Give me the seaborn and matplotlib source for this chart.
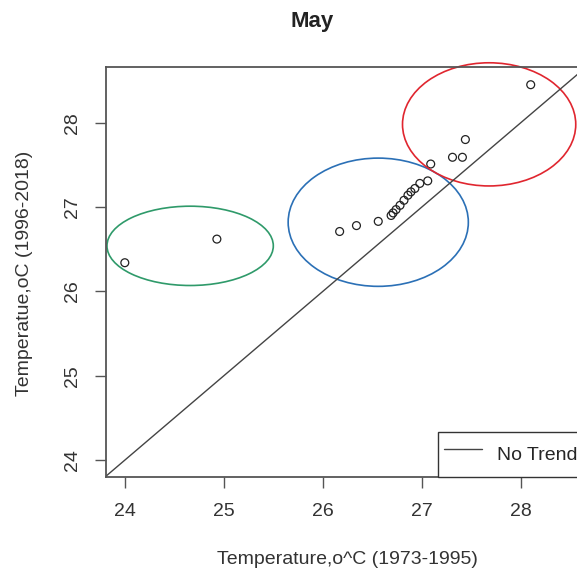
import matplotlib
matplotlib.use("Agg")
import matplotlib.pyplot as plt
from matplotlib.patches import Ellipse
import numpy as np
import pandas as pd
import seaborn as sns

sns.set_theme(style="ticks")
plt.rcParams["font.family"] = ["Liberation Sans", "DejaVu Sans"]

# mean May temperature, earlier period vs later period
temp_1973_1995 = [24.00, 24.93, 26.17, 26.34, 26.56, 26.69, 26.71, 26.74, 26.78,
                  26.82, 26.86, 26.89, 26.93, 26.98, 27.06, 27.09, 27.31, 27.41,
                  27.44, 28.10]
temp_1996_2018 = [26.34, 26.62, 26.71, 26.78, 26.83, 26.90, 26.93, 26.97, 27.02,
                  27.08, 27.14, 27.18, 27.22, 27.28, 27.31, 27.51, 27.59, 27.59,
                  27.80, 28.45]

# groups circled on the chart: (centre x, centre y, width, height, colour)
groups = [
    (24.66, 26.54, 1.68, 0.94, "#2f9a6a"),
    (26.56, 26.82, 1.82, 1.52, "#2b70b6"),
    (27.68, 27.98, 1.75, 1.46, "#e0262f"),
]

df = pd.DataFrame({"x": temp_1973_1995, "y": temp_1996_2018})

fig = plt.figure(figsize=(5.77, 5.77), dpi=100)
# axes run a little past the right edge, the original image is cropped there
ax = fig.add_axes([106 / 577, 100 / 577, 477 / 577, 410 / 577])

ax.axline((24, 24), slope=1, color="#444444", lw=1.0, label="No Trend")
sns.scatterplot(data=df, x="x", y="y", ax=ax, s=32, legend=False)
pts = ax.collections[-1]
pts.set_facecolor("none")
pts.set_edgecolor("#222222")
pts.set_linewidth(0.9)

for cx, cy, w, h, col in groups:
    ax.add_patch(Ellipse((cx, cy), w, h, fill=False, edgecolor=col, lw=1.2,
                         clip_on=False))

ax.set_xlim(23.81, 23.81 + 477 / 99)
ax.set_ylim(23.80, 28.66)
ax.set_xticks([24, 25, 26, 27, 28])
ax.set_yticks([24, 25, 26, 27, 28])
for s in ax.spines.values():
    s.set_visible(True)
    s.set_color("#555555")
    s.set_linewidth(1.3)
ax.tick_params(length=8, width=1, color="#555555", labelsize=14,
               labelcolor="#333333")
ax.tick_params(axis="x", pad=11)
ax.tick_params(axis="y", pad=10)
for t in ax.get_yticklabels():
    t.set_rotation(90)
    t.set_va("center")

ax.set_xlabel("Temperature,o^C (1973-1995)", fontsize=14, color="#333333")
ax.set_ylabel("Temperatue,oC (1996-2018)", fontsize=14, color="#333333")
ax.xaxis.set_label_coords(241 / 477, -83 / 410)
ax.yaxis.set_label_coords(-81 / 477, 204 / 410)
ax.xaxis.label.set_va("center")
ax.yaxis.label.set_va("center")

leg = ax.legend(loc="lower right", borderaxespad=0, fancybox=False,
                framealpha=1, edgecolor="#333333", fontsize=14,
                handlelength=1.96, handleheight=2.3, handletextpad=0.77,
                borderpad=0.3)
leg.get_frame().set_linewidth(1.0)

fig.text(312 / 577, 1 - 22 / 577, "May", ha="center", va="center",
         fontsize=16, fontweight="bold", color="#222222")

fig.savefig("out.png", dpi=100)
